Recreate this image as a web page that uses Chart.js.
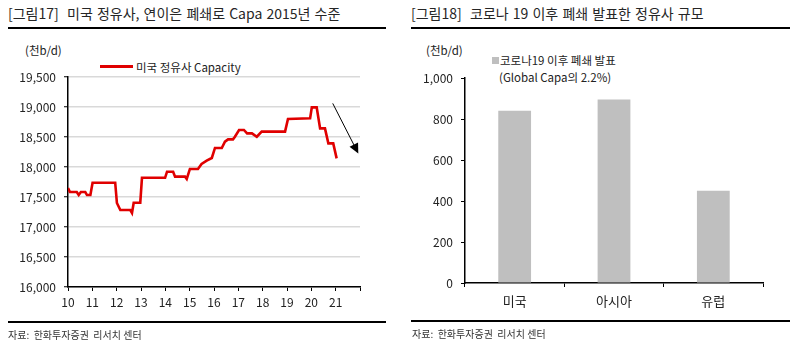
<!DOCTYPE html>
<html>
<head>
<meta charset="utf-8">
<script src="https://cdn.jsdelivr.net/npm/chart.js@4/dist/chart.umd.min.js"></script>
<style>
  body { margin: 0; width: 796px; height: 344px; background: #fff; position: relative; overflow: hidden;
         font-family: "Noto Sans CJK KR", "Noto Sans", sans-serif; color: #222; }
  .abs { position: absolute; white-space: pre; }
  .title { font-size: 14px; line-height: 18px; word-spacing: 1px; color: #262626; }
  .unit { font-size: 11.5px; line-height: 14px; }
  .src { font-size: 10px; line-height: 12px; color: #333; }
  .rule { position: absolute; height: 2px; background: #000; }
  canvas { position: absolute; top: 0; }
</style>
</head>
<body>
<div class="abs title" style="left:8px; top:4px;">[그림17]  미국 정유사, 연이은 폐쇄로 Capa 2015년 수준</div>
<div class="rule" style="left:8px; width:378px; top:27px;"></div>
<div class="abs title" style="left:411px; top:4px;">[그림18]  코로나 19 이후 폐쇄 발표한 정유사 규모</div>
<div class="rule" style="left:411px; width:379px; top:27px;"></div>

<div class="abs unit" style="left:25px; top:43px;">(천b/d)</div>
<div class="abs unit" style="left:426px; top:43px;">(천b/d)</div>

<!-- legends -->
<div class="abs" style="left:100px; top:65px; width:33px; height:3px; background:#e00000;"></div>
<div class="abs unit" style="left:136px; top:60px;">미국 정유사 Capacity</div>
<div class="abs" style="left:492px; top:57px; width:7px; height:7px; background:#bfbfbf;"></div>
<div class="abs unit" style="left:500px; top:53px;">코로나19 이후 폐쇄 발표</div>
<div class="abs unit" style="left:499px; top:70px;">(Global Capa의 2.2%)</div>

<canvas id="capChart" width="400" height="344" style="left:0px;"></canvas>
<canvas id="closeChart" width="396" height="344" style="left:400px;"></canvas>

<div class="rule" style="left:8px; width:378px; top:321px;"></div>
<div class="abs src" style="left:8px; top:329px;">자료:  한화투자증권  리서치 센터</div>
<div class="rule" style="left:411px; width:379px; top:320px;"></div>
<div class="abs src" style="left:412px; top:328px;">자료:  한화투자증권  리서치 센터</div>

<script>
// 미국 정유사 Capacity (천b/d), x = year
const capYears = [2010.0, 2010.08, 2010.36, 2010.44, 2010.53, 2010.71, 2010.78, 2010.92, 2011.01, 2011.94,
                  2012.01, 2012.15, 2012.56, 2012.63, 2012.70, 2012.97, 2013.04, 2013.99, 2014.07, 2014.32,
                  2014.40, 2014.81, 2014.88, 2015.01, 2015.34, 2015.49, 2015.70, 2015.91, 2016.04, 2016.32,
                  2016.45, 2016.58, 2016.78, 2016.86, 2017.03, 2017.23, 2017.36, 2017.56, 2017.76, 2017.96,
                  2018.92, 2019.04, 2019.95, 2020.02, 2020.22, 2020.36, 2020.56, 2020.70, 2020.90, 2021.04];
const capValues = [17650, 17583, 17583, 17533, 17583, 17583, 17533, 17533, 17738, 17738,
                   17400, 17283, 17283, 17233, 17405, 17405, 17820, 17820, 17922, 17922,
                   17839, 17839, 17800, 17967, 17967, 18050, 18105, 18150, 18317, 18317,
                   18422, 18461, 18461, 18505, 18617, 18617, 18561, 18561, 18505, 18589,
                   18589, 18800, 18811, 18994, 18994, 18644, 18644, 18394, 18394, 18144];
const capXTickLabels = ["10", "11", "12", "13", "14", "15", "16", "17", "18", "19", "20", "21"];
// arrow annotation (year, value) start -> end
const arrowFrom = [2020.88, 19060];
const arrowTo = [2021.93, 18225];

// 코로나19 이후 폐쇄 발표 (천b/d)
const regions = ["미국", "아시아", "유럽"];
const closedCapa = [840, 895, 450];

Chart.defaults.font.family = "'Noto Sans CJK KR', 'Noto Sans', sans-serif";
Chart.defaults.font.size = 12;
Chart.defaults.color = "#222";
Chart.defaults.animation = false;

const arrowPlugin = {
    id: "arrow",
    afterDatasetsDraw(chart) {
        const ctx = chart.ctx;
        const xs = chart.scales.x, ys = chart.scales.y;
        const x1 = xs.getPixelForValue(arrowFrom[0]), y1 = ys.getPixelForValue(arrowFrom[1]);
        const x2 = xs.getPixelForValue(arrowTo[0]), y2 = ys.getPixelForValue(arrowTo[1]);
        const ang = Math.atan2(y2 - y1, x2 - x1);
        const len = 11, half = 0.45;
        ctx.save();
        ctx.strokeStyle = "#000";
        ctx.lineWidth = 1;
        ctx.beginPath();
        ctx.moveTo(x1, y1);
        ctx.lineTo(x2 - Math.cos(ang) * len * 0.8, y2 - Math.sin(ang) * len * 0.8);
        ctx.stroke();
        ctx.fillStyle = "#000";
        ctx.beginPath();
        ctx.moveTo(x2, y2);
        ctx.lineTo(x2 - len * Math.cos(ang - half), y2 - len * Math.sin(ang - half));
        ctx.lineTo(x2 - len * Math.cos(ang + half), y2 - len * Math.sin(ang + half));
        ctx.closePath();
        ctx.fill();
        ctx.restore();
    }
};

new Chart(document.getElementById("capChart"), {
    type: "line",
    data: {
        datasets: [{
            label: "미국 정유사 Capacity",
            data: capYears.map((x, i) => ({ x: x, y: capValues[i] })),
            borderColor: "#e00000",
            borderWidth: 2.6,
            pointRadius: 0,
            tension: 0,
            fill: false,
        }],
    },
    options: {
        responsive: false,
        layout: { padding: { left: 8, right: 40, top: 77, bottom: 32 } },
        plugins: { legend: { display: false }, tooltip: { enabled: false } },
        scales: {
            x: {
                type: "linear",
                min: 2010,
                max: 2022,
                afterFit: (s) => { s.height = 25; },
                afterBuildTicks: (s) => {
                    s.ticks = [];
                    for (let v = 2010; v <= 2022; v++) s.ticks.push({ value: v });
                },
                ticks: {
                    autoSkip: false,
                    maxRotation: 0,
                    padding: 4,
                    font: { size: 12 },
                    callback: (v, i) => capXTickLabels[i] || "",
                },
                grid: { drawOnChartArea: false, tickLength: 4, tickColor: "#000", tickWidth: 1 },
                border: { color: "#000", width: 1.5 },
            },
            y: {
                min: 16000,
                max: 19500,
                afterFit: (s) => { s.width = 60; },
                ticks: {
                    stepSize: 500,
                    padding: 8,
                    font: { size: 12 },
                    callback: (v) => v.toLocaleString("en-US"),
                },
                grid: { color: "#d9d9d9", lineWidth: 1.5, tickLength: 4, tickColor: "#000", tickWidth: 1 },
                border: { color: "#000", width: 1.5 },
            },
        },
    },
    plugins: [arrowPlugin],
});

new Chart(document.getElementById("closeChart"), {
    type: "bar",
    data: {
        labels: regions,
        datasets: [{
            label: "코로나19 이후 폐쇄 발표",
            data: closedCapa,
            backgroundColor: "#bfbfbf",
            borderWidth: 0,
            categoryPercentage: 1,
            barPercentage: 0.33,
        }],
    },
    options: {
        responsive: false,
        layout: { padding: { left: 5, right: 33, top: 78, bottom: 33 } },
        plugins: { legend: { display: false }, tooltip: { enabled: false } },
        scales: {
            x: {
                afterFit: (s) => { s.height = 28; },
                ticks: { padding: 6, font: { size: 13 } },
                grid: { offset: true, drawOnChartArea: false, tickLength: 4, tickColor: "#000" },
                border: { color: "#000", width: 1.5 },
            },
            y: {
                min: 0,
                max: 1000,
                afterFit: (s) => { s.width = 60; },
                ticks: {
                    stepSize: 200,
                    padding: 8,
                    font: { size: 12 },
                    callback: (v) => v.toLocaleString("en-US"),
                },
                grid: { drawOnChartArea: false, tickLength: 4, tickColor: "#000" },
                border: { color: "#000", width: 1.5 },
            },
        },
    },
});
</script>
</body>
</html>
